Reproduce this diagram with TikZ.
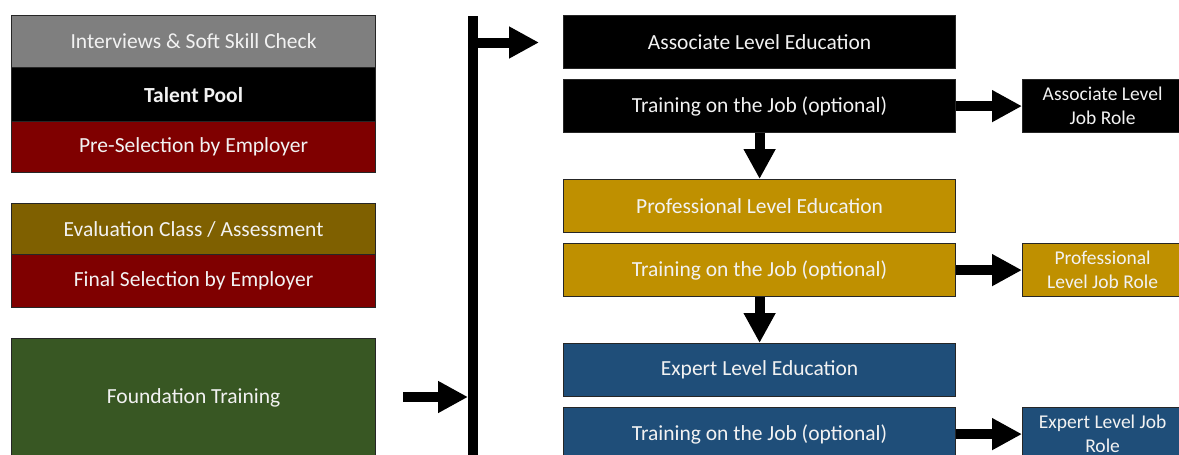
\documentclass[tikz,border=0pt]{standalone}
\usepackage{fontspec}
\setmainfont{Carlito}
\usetikzlibrary{arrows.meta}
\definecolor{cgrey}{HTML}{7F7F7F}
\definecolor{cred}{HTML}{7F0000}
\definecolor{colive}{HTML}{7F6000}
\definecolor{cgreen}{HTML}{385723}
\definecolor{cgold}{HTML}{BF9000}
\definecolor{cblue}{HTML}{1F4E79}
\definecolor{ctext}{HTML}{F2F2F2}
\begin{document}
\begin{tikzpicture}[x=1pt,y=-1pt,
  box/.style={draw=black!85, line width=1.2pt, anchor=north west, inner sep=0pt,
    text=ctext, align=center, font=\fontsize{21.5}{26}\selectfont},
  lbox/.style={box, minimum width=364pt},
  rbox/.style={box, minimum width=392pt, minimum height=53pt},
  jbox/.style={box, minimum width=160pt, minimum height=53pt,
    font=\fontsize{19.5}{24}\selectfont},
  barrow/.style={line width=10pt, -{Triangle[width=30pt,length=30pt]}},
  bar/.style={line width=10pt}
]
\useasboundingbox (0,0) rectangle (1179,455);

% left column
\node[lbox, fill=cgrey, minimum height=52pt] (isc) at (11,15) {Interviews \& Soft Skill Check};
\node[lbox, fill=black, minimum height=54pt, font=\fontsize{21.5}{26}\selectfont\bfseries] (tp) at (11,67) {Talent Pool};
\node[lbox, fill=cred, minimum height=51pt] (ps) at (11,121) {Pre-Selection by Employer};
\node[lbox, fill=colive, minimum height=51pt] (ev) at (11,203) {Evaluation Class / Assessment};
\node[lbox, fill=cred, minimum height=53pt] (fs) at (11,254) {Final Selection by Employer};
\node[lbox, fill=cgreen, minimum height=119pt] (fd) at (11,338) {Foundation Training};

% central column
\node[rbox, fill=black] (ae) at (563,15) {Associate Level Education};
\node[rbox, fill=black] (at) at (563,79) {Training on the Job (optional)};
\node[rbox, fill=cgold] (pe) at (563,179) {Professional Level Education};
\node[rbox, fill=cgold] (pt) at (563,243) {Training on the Job (optional)};
\node[rbox, fill=cblue] (ee) at (563,343) {Expert Level Education};
\node[rbox, fill=cblue] (et) at (563,407) {Training on the Job (optional)};

% job roles
\node[jbox, fill=black] (aj) at (1022,79) {Associate Level\\Job Role};
\node[jbox, fill=cgold] (pj) at (1022,243) {Professional\\Level Job Role};
\node[jbox, fill=cblue] (ej) at (1022,407) {Expert Level Job\\Role};

% bar and arrows
\coordinate (bartop) at (473,16);
\coordinate (barbot) at (473,462);
\draw[bar] (bartop) -- (barbot);
\coordinate (branch) at (468,42.5);
\coordinate (aein) at (539,42.5);
\draw[barrow] (branch) -- (aein);
\coordinate (fdout) at (403,397);
\coordinate (barin) at (468,397);
\draw[barrow] (fdout) -- (barin);

\draw[barrow] (at.south) -- (pe.north);
\draw[barrow] (pt.south) -- (ee.north);
\draw[barrow] (at.east) -- (aj.west);
\draw[barrow] (pt.east) -- (pj.west);
\draw[barrow] (et.east) -- (ej.west);
\end{tikzpicture}
\end{document}
